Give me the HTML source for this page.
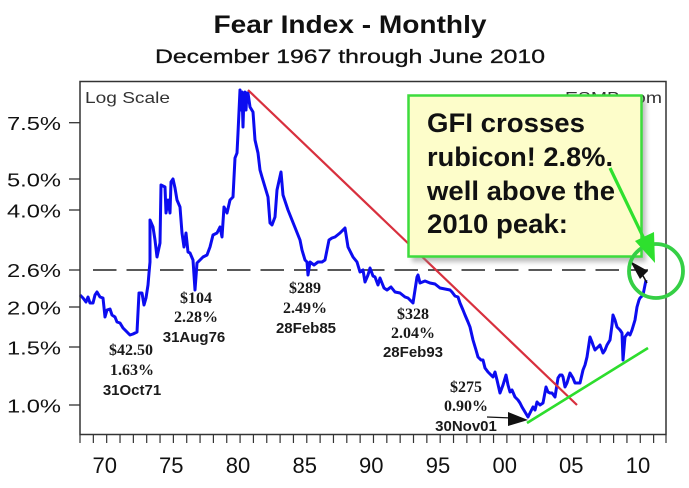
<!DOCTYPE html>
<html><head><meta charset="utf-8">
<style>
html,body{margin:0;padding:0;background:#fff;}
svg{display:block;}
</style></head>
<body>
<svg width="689" height="488" viewBox="0 0 689 488" xmlns="http://www.w3.org/2000/svg">
<defs>
<filter id="sh" x="-10%" y="-10%" width="130%" height="130%">
<feGaussianBlur stdDeviation="2.5"/>
</filter>
</defs>
<rect width="689" height="488" fill="#fff"/>

<!-- Titles -->
<text x="350" y="33" text-anchor="middle" font-family="Liberation Sans, sans-serif" font-weight="bold" font-size="25" textLength="273" lengthAdjust="spacingAndGlyphs" fill="#111">Fear Index - Monthly</text>
<text x="350" y="63" text-anchor="middle" font-family="Liberation Sans, sans-serif" font-size="19" textLength="390" lengthAdjust="spacingAndGlyphs" fill="#111" stroke="#111" stroke-width="0.3">December 1967 through June 2010</text>

<!-- Y axis labels -->
<g font-family="Liberation Sans, sans-serif" font-size="18" fill="#111" text-anchor="end">
<text x="61" y="130" textLength="54" lengthAdjust="spacingAndGlyphs">7.5%</text>
<text x="61" y="186.5" textLength="54" lengthAdjust="spacingAndGlyphs">5.0%</text>
<text x="61" y="217.5" textLength="54" lengthAdjust="spacingAndGlyphs">4.0%</text>
<text x="61" y="277" textLength="54" lengthAdjust="spacingAndGlyphs">2.6%</text>
<text x="61" y="314.5" textLength="54" lengthAdjust="spacingAndGlyphs">2.0%</text>
<text x="61" y="354.5" textLength="54" lengthAdjust="spacingAndGlyphs">1.5%</text>
<text x="61" y="412.5" textLength="54" lengthAdjust="spacingAndGlyphs">1.0%</text>
</g>
<g stroke="#333" stroke-width="1.3">
<line x1="69" y1="122.7" x2="80" y2="122.7"/>
<line x1="69" y1="179" x2="80" y2="179"/>
<line x1="69" y1="210" x2="80" y2="210"/>
<line x1="69" y1="270" x2="80" y2="270"/>
<line x1="69" y1="307" x2="80" y2="307"/>
<line x1="69" y1="347" x2="80" y2="347"/>
<line x1="69" y1="405" x2="80" y2="405"/>
</g>

<!-- bottom ticks -->
<g stroke="#333" stroke-width="1.2">
<line x1="80" y1="435" x2="80" y2="443"/><line x1="93.34" y1="435" x2="93.34" y2="443"/><line x1="106.68" y1="435" x2="106.68" y2="443"/><line x1="120.02" y1="435" x2="120.02" y2="443"/><line x1="133.36" y1="435" x2="133.36" y2="443"/><line x1="146.7" y1="435" x2="146.7" y2="443"/><line x1="160.04" y1="435" x2="160.04" y2="443"/><line x1="173.38" y1="435" x2="173.38" y2="443"/><line x1="186.72" y1="435" x2="186.72" y2="443"/><line x1="200.06" y1="435" x2="200.06" y2="443"/><line x1="213.4" y1="435" x2="213.4" y2="443"/><line x1="226.74" y1="435" x2="226.74" y2="443"/><line x1="240.08" y1="435" x2="240.08" y2="443"/><line x1="253.42" y1="435" x2="253.42" y2="443"/><line x1="266.76" y1="435" x2="266.76" y2="443"/><line x1="280.1" y1="435" x2="280.1" y2="443"/><line x1="293.44" y1="435" x2="293.44" y2="443"/><line x1="306.78" y1="435" x2="306.78" y2="443"/><line x1="320.12" y1="435" x2="320.12" y2="443"/><line x1="333.46" y1="435" x2="333.46" y2="443"/><line x1="346.8" y1="435" x2="346.8" y2="443"/><line x1="360.14" y1="435" x2="360.14" y2="443"/><line x1="373.48" y1="435" x2="373.48" y2="443"/><line x1="386.82" y1="435" x2="386.82" y2="443"/><line x1="400.16" y1="435" x2="400.16" y2="443"/><line x1="413.5" y1="435" x2="413.5" y2="443"/><line x1="426.84" y1="435" x2="426.84" y2="443"/><line x1="440.18" y1="435" x2="440.18" y2="443"/><line x1="453.52" y1="435" x2="453.52" y2="443"/><line x1="466.86" y1="435" x2="466.86" y2="443"/><line x1="480.2" y1="435" x2="480.2" y2="443"/><line x1="493.54" y1="435" x2="493.54" y2="443"/><line x1="506.88" y1="435" x2="506.88" y2="443"/><line x1="520.22" y1="435" x2="520.22" y2="443"/><line x1="533.56" y1="435" x2="533.56" y2="443"/><line x1="546.9" y1="435" x2="546.9" y2="443"/><line x1="560.24" y1="435" x2="560.24" y2="443"/><line x1="573.58" y1="435" x2="573.58" y2="443"/><line x1="586.92" y1="435" x2="586.92" y2="443"/><line x1="600.26" y1="435" x2="600.26" y2="443"/><line x1="613.6" y1="435" x2="613.6" y2="443"/><line x1="626.94" y1="435" x2="626.94" y2="443"/><line x1="640.28" y1="435" x2="640.28" y2="443"/><line x1="653.62" y1="435" x2="653.62" y2="443"/><line x1="666" y1="435" x2="666" y2="443"/>
</g>

<!-- year labels -->
<g font-family="Liberation Sans, sans-serif" font-size="22" fill="#111" text-anchor="middle">
<text x="104.7" y="473">70</text>
<text x="171.3" y="473">75</text>
<text x="238" y="473">80</text>
<text x="304.7" y="473">85</text>
<text x="371.3" y="473">90</text>
<text x="438" y="473">95</text>
<text x="504.7" y="473">00</text>
<text x="571.3" y="473">05</text>
<text x="638" y="473">10</text>
</g>

<!-- Log scale label -->
<text x="85" y="103" font-family="Liberation Sans, sans-serif" font-size="16" fill="#333" textLength="85" lengthAdjust="spacingAndGlyphs">Log Scale</text>
<text x="565" y="103" font-family="Liberation Sans, sans-serif" font-size="16" fill="#333" textLength="97" lengthAdjust="spacingAndGlyphs">ESMB.com</text>

<!-- dashed 2.6% line -->
<line x1="93" y1="270" x2="648" y2="270" stroke="#222" stroke-width="1.6" stroke-dasharray="23.5 10"/>

<!-- blue series -->
<polyline fill="none" stroke="#0c0cf0" stroke-width="3" stroke-linejoin="round" points="80,295 83,298 86,302 88,297 90,303 93,303 95,295 97,292 100,297 103,298 105,317 107,310 110,309 112,315 115,317 117,322 120,323 123,328 127,332 130,335 133,334 137,332 139,293 142,293 144,305 146,298 148,285 149,273 150,262 150,220 153,227 155,240 157,257 160,243 161,185 165,187 166,213 168,200 170,213 171,182 173,179 175,188 177,200 180,207 182,233 184,247 186,233 188,252 190,253 193,260 195,290 197,263 200,260 203,257 207,255 210,247 213,235 217,233 220,227 222,237 224,207 227,213 230,200 233,197 235,158 237,153 238,133 240,90 241,110 242,92 243,127 244,95 245,92 246,110 247,93 248,93 250,107 253,112 255,140 258,153 260,170 262,177 265,187 268,197 270,223 272,225 275,217 277,190 281,172 283,195 288,210 292,220 296,230 300,240 302,250 305,260 307,262 308,275 310,262 314,265 318,262 322,262 325,260 329,240 332,238 335,237 340,233 345,228 348,247 353,257 357,262 360,272 363,270 365,282 368,275 370,268 373,276 375,277 378,285 380,278 384,288 387,290 391,287 395,292 400,293 405,297 408,298 410,300 413,303 415,290 417,277 418,275 420,283 425,281 430,283 435,284 440,288 445,289 450,290 452,292 455,296 458,297 460,303 463,310 465,315 468,322 470,327 473,340 476,350 478,357 481,360 483,360 485,368 488,372 490,374 493,377 495,372 497,380 500,393 503,385 506,375 508,385 510,392 512,390 515,397 518,400 520,403 522,407 525,412 528,417 530,413 533,407 535,410 537,402 540,405 543,403 546,387 548,392 550,393 552,393 555,397 558,378 560,375 562,375 563,377 565,387 567,383 570,373 573,378 575,383 578,383 580,383 583,370 585,365 587,357 590,337 592,342 593,345 595,350 597,348 600,345 603,353 605,350 607,345 610,340 612,325 613,315 615,320 617,327 620,330 622,333 623,360 625,337 628,333 630,335 632,330 635,320 637,307 639,300 640,298 643,295 645,285 646,280"/>

<!-- trend lines -->
<line x1="248" y1="90" x2="577" y2="405" stroke="#d8303e" stroke-width="2.2"/>
<line x1="527" y1="423" x2="648" y2="348" stroke="#2ddd2d" stroke-width="2.6"/>

<!-- annotations -->
<g font-weight="bold" fill="#1a1a1a" text-anchor="middle">
<text x="131" y="355" font-family="Liberation Serif, serif" font-size="16">$42.50</text>
<text x="132" y="375" font-family="Liberation Serif, serif" font-size="16">1.63%</text>
<text x="132" y="395" font-family="Liberation Sans, sans-serif" font-size="15">31Oct71</text>

<text x="196" y="303" font-family="Liberation Serif, serif" font-size="16">$104</text>
<text x="196" y="322" font-family="Liberation Serif, serif" font-size="16">2.28%</text>
<text x="194" y="342" font-family="Liberation Sans, sans-serif" font-size="15">31Aug76</text>

<text x="305" y="293" font-family="Liberation Serif, serif" font-size="16">$289</text>
<text x="305" y="313" font-family="Liberation Serif, serif" font-size="16">2.49%</text>
<text x="306" y="333" font-family="Liberation Sans, sans-serif" font-size="15">28Feb85</text>

<text x="413" y="319" font-family="Liberation Serif, serif" font-size="16">$328</text>
<text x="413" y="338" font-family="Liberation Serif, serif" font-size="16">2.04%</text>
<text x="413" y="357" font-family="Liberation Sans, sans-serif" font-size="15">28Feb93</text>

<text x="466" y="392" font-family="Liberation Serif, serif" font-size="16">$275</text>
<text x="466" y="411" font-family="Liberation Serif, serif" font-size="16">0.90%</text>
<text x="466" y="431" font-family="Liberation Sans, sans-serif" font-size="15">30Nov01</text>
</g>

<!-- black arrow at 2001 low -->
<line x1="487" y1="417" x2="512" y2="418" stroke="#111" stroke-width="1.2"/>
<polygon points="508,412 528,420 508,426" fill="#111"/>

<!-- frame -->
<rect x="80" y="81.5" width="586" height="353" fill="none" stroke="#333" stroke-width="1.5"/>

<!-- callout box -->
<rect x="412" y="100" width="234" height="162" fill="#888" opacity="0.55" filter="url(#sh)"/>
<rect x="408.5" y="95.5" width="233" height="161" fill="#fdfdca" stroke="#3ddc3d" stroke-width="2.5"/>
<g font-family="Liberation Sans, sans-serif" font-weight="bold" font-size="27" fill="#111">
<text x="427" y="132" textLength="158" lengthAdjust="spacingAndGlyphs">GFI crosses</text>
<text x="427" y="166" textLength="186" lengthAdjust="spacingAndGlyphs">rubicon! 2.8%.</text>
<text x="427" y="200" textLength="188" lengthAdjust="spacingAndGlyphs">well above the</text>
<text x="427" y="233" textLength="141" lengthAdjust="spacingAndGlyphs">2010 peak:</text>
</g>

<!-- black arrowhead near circle -->
<polygon points="630,261 648,271 640,279" fill="#111"/>
<line x1="642" y1="274" x2="647" y2="283" stroke="#111" stroke-width="1.5"/>

<!-- green circle -->
<ellipse cx="656" cy="271" rx="27" ry="27" fill="none" stroke="#35cf45" stroke-width="3.8"/>

<!-- green arrow -->
<line x1="610" y1="168" x2="646" y2="243" stroke="#2ee02e" stroke-width="3.2"/>
<polygon points="655,263 635,241 654,232" fill="#2ee02e"/>
</svg>
</body></html>
